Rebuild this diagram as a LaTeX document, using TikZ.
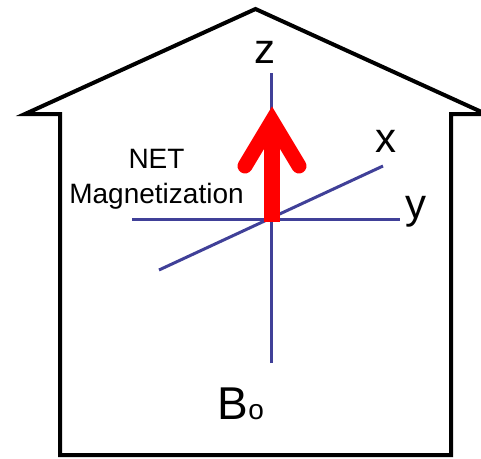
\documentclass[tikz,border=0pt]{standalone}
\usepackage{fontspec}
\setmainfont{Liberation Sans}
\definecolor{axisblue}{RGB}{64,64,152}
\begin{document}
\begin{tikzpicture}[x=1pt,y=-1pt,
  house/.style={line width=4pt, line join=miter, miter limit=20},
  axis/.style={axisblue, line width=3pt},
  biglbl/.style={inner sep=0pt, anchor=base, font=\fontsize{42}{50}\selectfont},
  smalllbl/.style={inner sep=0pt, anchor=base, font=\fontsize{28}{35}\selectfont},
  arrowred/.style={red}]
\useasboundingbox (0,0) rectangle (481,458);
\clip (0,0) rectangle (481,458);
% house outline
\draw[house] (60,455) -- (60,114) -- (25,114) -- (255.5,9) -- (486,114) -- (451,114) -- (451,455) -- cycle;
% axes
\coordinate (ztop) at (271,73);
\coordinate (zbot) at (271,363);
\coordinate (yl) at (132,219);
\coordinate (yr) at (400,219);
\coordinate (xl) at (159,270);
\coordinate (xr) at (383,166);
\draw[axis] (zbot) -- (ztop);
\draw[axis] (yl) -- (yr);
\draw[axis] (xl) -- (xr);
% net magnetization arrow
\coordinate (sbot) at (272,222);
\coordinate (stop) at (272,125);
\coordinate (hl) at (245,166);
\coordinate (hv) at (272,121);
\coordinate (hr) at (299,166);
\draw[arrowred, line width=16pt] (sbot) -- (stop);
\draw[arrowred, line width=15pt, line cap=round, line join=miter] (hl) -- (hv) -- (hr);
% labels
\node[biglbl] (zl) at (265,63) {z};
\node[biglbl] (xlbl) at (386,152) {x};
\node[biglbl] (ylbl) at (416,218) {y};
\node[smalllbl] (net) at (156.5,168) {NET};
\node[smalllbl] (mag) at (156.5,203) {Magnetization};
\node[inner sep=0pt, anchor=base west, font=\fontsize{46}{52}\selectfont] (B) at (217,419) {B};
\node[inner sep=0pt, anchor=base west, font=\fontsize{28}{34}\selectfont] (o) at (B.base east) {o};
\end{tikzpicture}
\end{document}
